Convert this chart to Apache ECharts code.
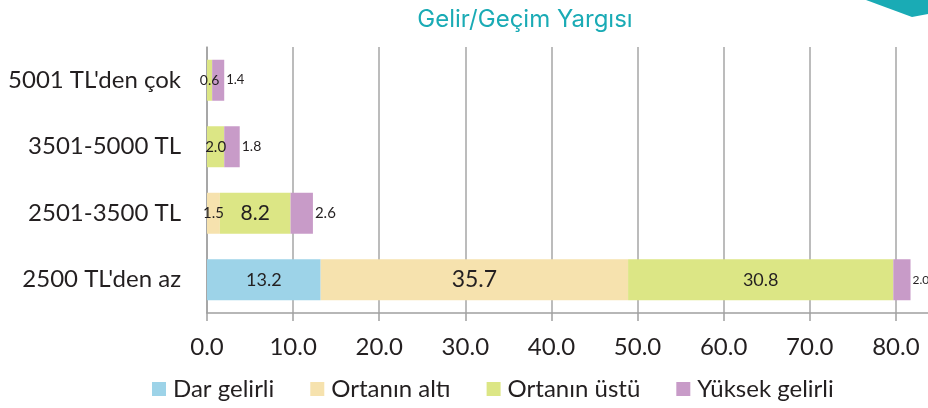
<!DOCTYPE html>
<html>
<head>
<meta charset="utf-8">
<script src="https://cdn.jsdelivr.net/npm/echarts@6/dist/echarts.min.js"></script>
<style>
  html, body { margin: 0; padding: 0; background: #fff; }
  #main { width: 928px; height: 408px; }
</style>
</head>
<body>
<div id="main"></div>
<script>
// veriler
var categories = ["5001 TL'den çok", '3501-5000 TL', '2501-3500 TL', "2500 TL'den az"];
var seriesNames = ['Dar gelirli', 'Ortanın altı', 'Ortanın üstü', 'Yüksek gelirli'];
var darGelirli = [0, 0, 0, 13.2];
var ortaninAlti = [0, 0, 1.5, 35.7];
var ortaninUstu = [0.6, 2.0, 8.2, 30.8];
var yuksekGelirli = [1.4, 1.8, 2.6, 2.0];
var xTicks = [0, 10, 20, 30, 40, 50, 60, 70, 80, 90];

// görünüm
var colors = ['#9dd3e8', '#f6e2ae', '#dce685', '#c89bc8'];
var labelSizes = [
    [18, 18, 18, 18],
    [15, 15, 15, 23],
    [14, 15, 21, 18],
    [13, 14, 15, 12]
];
var font = 'Lato';

var myChart = echarts.init(document.getElementById('main'));

function makeSeries(idx, values) {
    return {
        name: seriesNames[idx],
        type: 'bar',
        stack: 'toplam',
        barWidth: 41,
        itemStyle: { color: colors[idx] },
        data: values.map(function (v, i) {
            return {
                value: v,
                label: { fontSize: labelSizes[idx][i] }
            };
        }),
        label: {
            show: true,
            position: idx === 3 ? 'right' : 'inside',
            distance: 2,
            color: '#231f20',
            fontFamily: font,
            formatter: function (p) {
                return p.value ? p.value.toFixed(1) : '';
            }
        }
    };
}

myChart.setOption({
    animation: false,
    title: {
        text: 'Gelir/Geçim Yargısı',
        left: 520,
        textAlign: 'center',
        top: 3,
        textStyle: { color: '#1aabb5', fontSize: 24, fontWeight: 'normal', fontFamily: 'Inter' }
    },
    graphic: [{
        type: 'polygon',
        shape: { points: [[866, 0], [928, 0], [928, 14], [912, 17]] },
        style: { fill: '#1aabb5' }
    }],
    legend: {
        data: seriesNames,
        bottom: 2,
        left: 147,
        icon: 'rect',
        itemWidth: 14,
        itemHeight: 14,
        itemGap: 36,
        textStyle: { fontSize: 24, color: '#231f20', fontFamily: font, padding: [0, 0, 0, 2] }
    },
    grid: { left: 207, right: -54, top: 47, bottom: 95, outerBoundsMode: 'none' },
    xAxis: {
        type: 'value',
        min: xTicks[0],
        max: xTicks[xTicks.length - 1],
        interval: 10,
        axisLine: { show: true, lineStyle: { color: '#a0a0a0', width: 1.5 } },
        axisTick: { show: true, length: 8, lineStyle: { color: '#a0a0a0', width: 1.5 } },
        splitLine: { show: true, lineStyle: { color: '#a6a6a6', width: 1.5 } },
        axisLabel: {
            margin: 22,
            fontSize: 24,
            color: '#231f20',
            fontFamily: font,
            formatter: function (v) { return v.toFixed(1); }
        }
    },
    yAxis: {
        type: 'category',
        inverse: true,
        data: categories,
        axisLine: { lineStyle: { color: '#a0a0a0', width: 1.5 } },
        axisTick: { length: 9, lineStyle: { color: '#a0a0a0', width: 1.5 } },
        axisLabel: { margin: 26, fontSize: 24, color: '#231f20', fontFamily: font }
    },
    series: [
        makeSeries(0, darGelirli),
        makeSeries(1, ortaninAlti),
        makeSeries(2, ortaninUstu),
        makeSeries(3, yuksekGelirli)
    ]
});
</script>
</body>
</html>
